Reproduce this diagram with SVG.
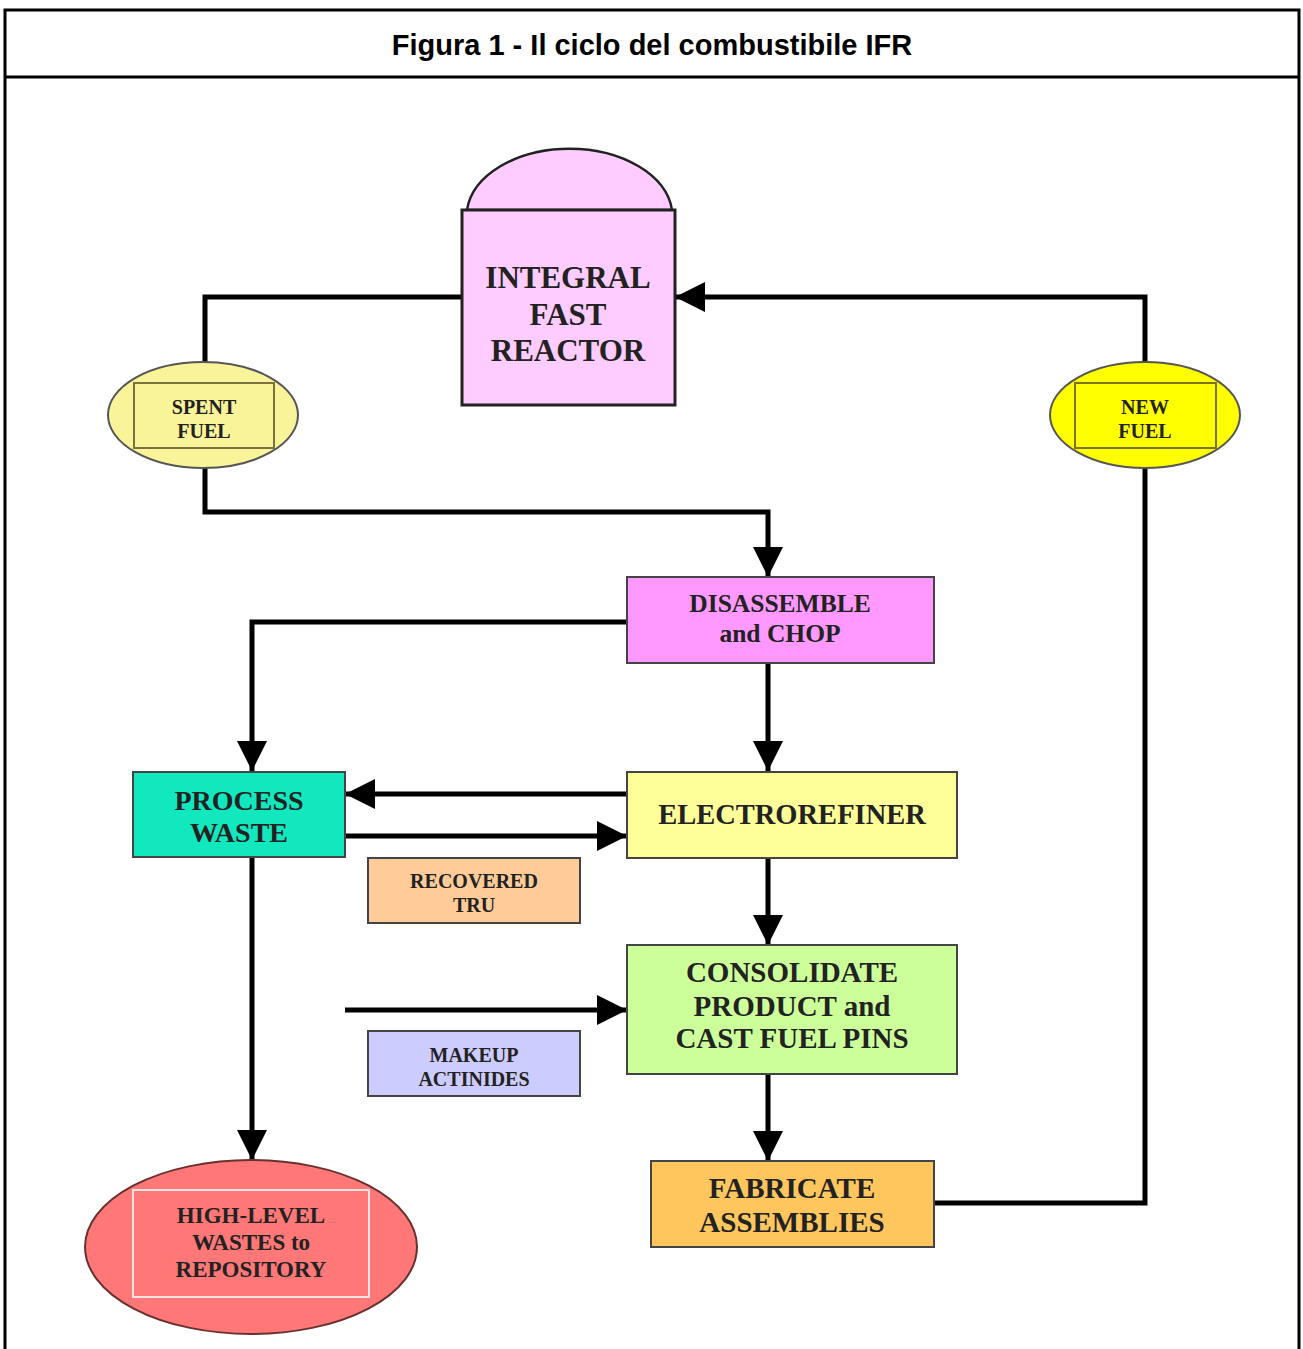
<svg xmlns="http://www.w3.org/2000/svg" width="1303" height="1349" viewBox="0 0 1303 1349">
<style>
.frame{fill:none;stroke:#000;stroke-width:3}
.title{font-family:"Liberation Sans",Arial,sans-serif;font-weight:bold;font-size:29px;fill:#000}
.lbl{font-family:"Liberation Serif","Times New Roman",serif;font-weight:bold;fill:#222;text-anchor:middle}
.box{stroke:#444;stroke-width:2}
.conn{fill:none;stroke:#000;stroke-width:5;stroke-linejoin:miter}
</style>
<defs>
<marker id="ah" markerUnits="userSpaceOnUse" markerWidth="30" markerHeight="30" viewBox="0 0 28 28" refX="28" refY="14" orient="auto">
<path d="M0,0 L28,14 L0,28 Z" fill="#000"/>
</marker>
</defs>
<rect width="1303" height="1349" fill="#fff"/>
<g id="frame">
<path class="frame" d="M5,1349 V10 H1299 V1349"/>
<line class="frame" x1="5" y1="77" x2="1299" y2="77"/>
<text class="title" x="652" y="55" text-anchor="middle">Figura 1 - Il ciclo del combustibile IFR</text>
</g>
<g id="connectors">
<path class="conn" d="M462,297 H205 V362"/>
<path class="conn" d="M205,468 V512 H768 V577" marker-end="url(#ah)"/>
<path class="conn" d="M1145,362 V297 H675" marker-end="url(#ah)"/>
<path class="conn" d="M1145,468 V1203 H934"/>
<path class="conn" d="M627,622 H252 V771" marker-end="url(#ah)"/>
<path class="conn" d="M768,663 V771" marker-end="url(#ah)"/>
<path class="conn" d="M627,794 H345" marker-end="url(#ah)"/>
<path class="conn" d="M345,836 H627" marker-end="url(#ah)"/>
<path class="conn" d="M252,857 V1160" marker-end="url(#ah)"/>
<path class="conn" d="M768,858 V945" marker-end="url(#ah)"/>
<path class="conn" d="M345,1010 H627" marker-end="url(#ah)"/>
<path class="conn" d="M768,1074 V1161" marker-end="url(#ah)"/>
</g>
<g id="reactor">
<path d="M467,210 A103,68 0 0 1 672,210 Z" fill="#FFCCFF" stroke="#222" stroke-width="2.5"/>
<rect x="462" y="210" width="213" height="195" fill="#FFCCFF" stroke="#222" stroke-width="3"/>
<text class="lbl" x="568" y="288" font-size="31">INTEGRAL</text>
<text class="lbl" x="568" y="325" font-size="31">FAST</text>
<text class="lbl" x="568" y="361" font-size="31">REACTOR</text>
</g>
<g id="spent-fuel">
<ellipse cx="203" cy="415" rx="95" ry="53" fill="#F9F49A" stroke="#555" stroke-width="2"/>
<rect x="134" y="383" width="140" height="65" fill="none" stroke="#7a7340" stroke-width="2"/>
<text class="lbl" x="204" y="414" font-size="20">SPENT</text>
<text class="lbl" x="204" y="438" font-size="20">FUEL</text>
</g>
<g id="new-fuel">
<ellipse cx="1145" cy="415" rx="95" ry="53" fill="#FFFF00" stroke="#555" stroke-width="2"/>
<rect x="1075" y="383" width="141" height="65" fill="none" stroke="#7a7320" stroke-width="2"/>
<text class="lbl" x="1145" y="414" font-size="20">NEW</text>
<text class="lbl" x="1145" y="438" font-size="20">FUEL</text>
</g>
<g id="disassemble">
<rect class="box" x="627" y="577" width="307" height="86" fill="#FF99FF"/>
<text class="lbl" x="780" y="612" font-size="25.5">DISASSEMBLE</text>
<text class="lbl" x="780" y="642" font-size="25.5">and CHOP</text>
</g>
<g id="process-waste">
<rect class="box" x="133" y="772" width="212" height="85" fill="#12E8BE"/>
<text class="lbl" x="239" y="810" font-size="28">PROCESS</text>
<text class="lbl" x="239" y="842" font-size="28">WASTE</text>
</g>
<g id="electrorefiner">
<rect class="box" x="627" y="772" width="330" height="86" fill="#FFFF99"/>
<text class="lbl" x="792" y="824" font-size="28.5">ELECTROREFINER</text>
</g>
<g id="recovered-tru">
<rect class="box" x="368" y="858" width="212" height="65" fill="#FFCC99"/>
<text class="lbl" x="474" y="888" font-size="20">RECOVERED</text>
<text class="lbl" x="474" y="912" font-size="20">TRU</text>
</g>
<g id="consolidate">
<rect class="box" x="627" y="945" width="330" height="129" fill="#CCFF99"/>
<text class="lbl" x="792" y="982" font-size="29">CONSOLIDATE</text>
<text class="lbl" x="792" y="1016" font-size="29">PRODUCT and</text>
<text class="lbl" x="792" y="1048" font-size="29">CAST FUEL PINS</text>
</g>
<g id="makeup-actinides">
<rect class="box" x="368" y="1031" width="212" height="65" fill="#CCCCFF"/>
<text class="lbl" x="474" y="1062" font-size="20">MAKEUP</text>
<text class="lbl" x="474" y="1086" font-size="20">ACTINIDES</text>
</g>
<g id="fabricate">
<rect class="box" x="651" y="1161" width="283" height="86" fill="#FFC65E"/>
<text class="lbl" x="792" y="1198" font-size="29">FABRICATE</text>
<text class="lbl" x="792" y="1232" font-size="29">ASSEMBLIES</text>
</g>
<g id="high-level-wastes">
<ellipse cx="251" cy="1247" rx="166" ry="87" fill="#FF7777" stroke="#6a3030" stroke-width="2"/>
<rect x="133" y="1190" width="236" height="107" fill="none" stroke="#FFE2E2" stroke-width="2"/>
<text class="lbl" x="251" y="1223" font-size="23">HIGH-LEVEL</text>
<text class="lbl" x="251" y="1250" font-size="23">WASTES to</text>
<text class="lbl" x="251" y="1277" font-size="23">REPOSITORY</text>
</g>
</svg>
